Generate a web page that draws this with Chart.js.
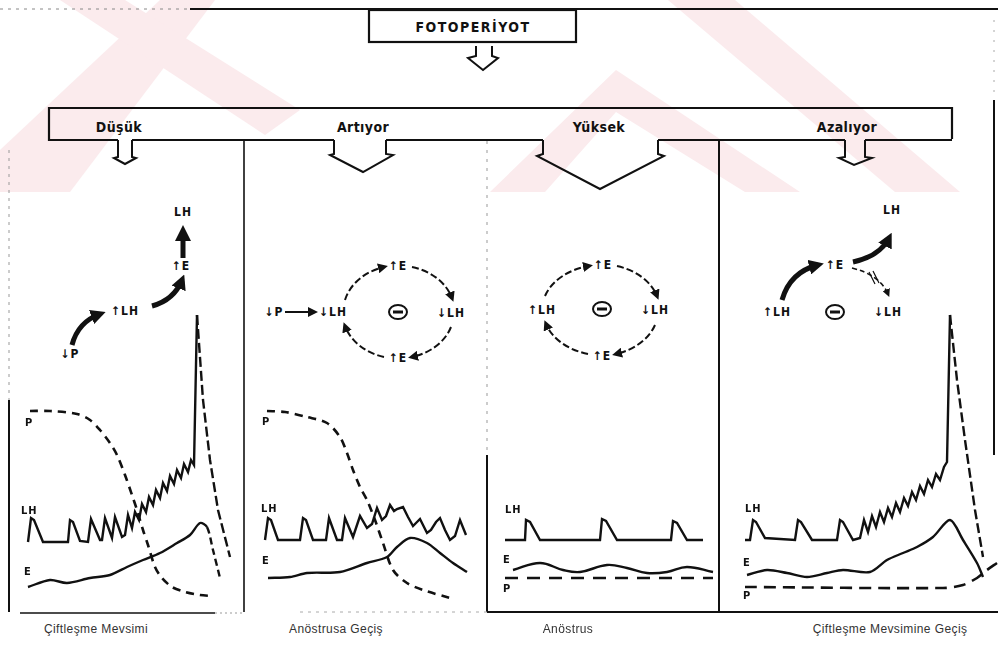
<!DOCTYPE html>
<html>
<head>
<meta charset="utf-8">
<script src="https://cdn.jsdelivr.net/npm/chart.js@4.4.0/dist/chart.umd.min.js"></script>
<style>
  html, body { margin: 0; padding: 0; background: #fff; }
  #wrap { position: relative; width: 998px; height: 649px; overflow: hidden;
    font-family: "Liberation Sans Narrow", "DejaVu Sans Condensed", "Liberation Sans", sans-serif; color: #111; }
  #wrap svg { position: absolute; left: 0; top: 0; }
  #wrap canvas { position: absolute; }
  .t { position: absolute; white-space: nowrap; transform: translate(-50%, -50%); font-weight: bold; font-size: 14px; letter-spacing: 0.4px; }
  .lab { position: absolute; white-space: nowrap; font-weight: bold; font-size: 11px; line-height: 11px; letter-spacing: 1px; }
  .bot { position: absolute; white-space: nowrap; transform: translate(-50%, -50%); font-size: 12px; color: #333; letter-spacing: 0.4px;
    font-family: "Liberation Sans", "DejaVu Sans", sans-serif; }
  svg text { font-family: "Liberation Sans Narrow", "DejaVu Sans Condensed", sans-serif; font-weight: bold; font-size: 12px; letter-spacing: 1px; fill: #111; }
</style>
</head>
<body>
<div id="wrap">
  <svg width="998" height="649">
    <defs>
      <marker id="ah" viewBox="0 0 10 10" refX="6" refY="5" markerWidth="5" markerHeight="5" orient="auto">
        <path d="M0,0 L10,5 L0,10 z" fill="#111"/>
      </marker>
      <marker id="ahs" viewBox="0 0 10 10" refX="6" refY="5" markerWidth="3" markerHeight="3" orient="auto">
        <path d="M0,0 L10,5 L0,10 z" fill="#111"/>
      </marker>
    </defs>
    <!-- faint watermark bands -->
    <g fill="#f7d3d8" opacity="0.45">
      <polygon points="0,150 0,192 70,192 215,0 160,0"/>
      <polygon points="60,0 125,0 300,110 265,135"/>
      <polygon points="616,70 800,192 745,192 616,112 545,192 490,192"/>
      <polygon points="668,0 735,0 960,192 895,192"/>
    </g>
    <!-- frame -->
    <line x1="0" y1="9" x2="190" y2="9" stroke="#888" stroke-width="1" stroke-dasharray="3 5"/>
    <line x1="190" y1="9" x2="998" y2="9" stroke="#111" stroke-width="2"/>
    <rect x="369" y="10" width="207" height="32" fill="#fff" fill-opacity="0.3" stroke="#111" stroke-width="2.2"/>
    <path d="M476,46 V56 L468,58 L483,70 L498,58 L492,56 V46" fill="none" stroke="#111" stroke-width="2"/>

    <path d="M49,141 V108 H952 V139" fill="none" stroke="#111" stroke-width="2.2"/>
    <path d="M49,140 H118 M132,140 H334 M386,140 H543 M658,140 H845 M865,140 H952" fill="none" stroke="#111" stroke-width="2.2"/>
    <path d="M118,140 V157 L114,158 L125,164 L136,158 L132,157 V140" fill="none" stroke="#111" stroke-width="2"/>
    <path d="M334,140 V154 L330,155 L363,172 L393,155 L386,154 V140" fill="none" stroke="#111" stroke-width="2"/>
    <path d="M543,140 V154 L537,156 L600,189 L664,156 L658,154 V140" fill="none" stroke="#111" stroke-width="2"/>
    <path d="M845,140 V157 L839,158 L854,165 L872,158 L865,157 V140" fill="none" stroke="#111" stroke-width="2"/>

    <line x1="244" y1="141" x2="244" y2="612" stroke="#111" stroke-width="1.6"/>
    <line x1="487" y1="141" x2="487" y2="455" stroke="#999" stroke-width="1" stroke-dasharray="3 6"/>
    <line x1="487" y1="455" x2="487" y2="612" stroke="#111" stroke-width="2"/>
    <line x1="719" y1="141" x2="719" y2="612" stroke="#111" stroke-width="2"/>
    <line x1="9" y1="150" x2="9" y2="400" stroke="#999" stroke-width="1" stroke-dasharray="3 5"/>
    <line x1="9" y1="400" x2="9" y2="612" stroke="#111" stroke-width="2"/>
    <line x1="994" y1="20" x2="994" y2="100" stroke="#aaa" stroke-width="1" stroke-dasharray="2 8"/>
    <line x1="994" y1="100" x2="994" y2="455" stroke="#111" stroke-width="2"/>
    <line x1="20" y1="613" x2="215" y2="613" stroke="#111" stroke-width="1.6"/>
    <line x1="215" y1="613" x2="244" y2="613" stroke="#999" stroke-width="1" stroke-dasharray="2 3"/>
    <line x1="300" y1="612" x2="487" y2="612" stroke="#aaa" stroke-width="1" stroke-dasharray="3 5"/>
    <line x1="487" y1="612" x2="998" y2="612" stroke="#111" stroke-width="2"/>

    <!-- panel 1 feedback -->
    <text x="183" y="212" text-anchor="middle" dominant-baseline="central">LH</text>
    <line x1="183" y1="258" x2="183" y2="240" stroke="#111" stroke-width="5"/>
    <path d="M175,241 L191,241 L183,225 z" fill="#111"/>
    <text x="181" y="266" text-anchor="middle" dominant-baseline="central">↑E</text>
    <path d="M152,306 Q174,300 182,280" fill="none" stroke="#111" stroke-width="5" marker-end="url(#ahs)"/>
    <text x="125" y="311" text-anchor="middle" dominant-baseline="central">↑LH</text>
    <path d="M72,345 Q78,322 100,314" fill="none" stroke="#111" stroke-width="5" marker-end="url(#ahs)"/>
    <text x="70" y="354" text-anchor="middle" dominant-baseline="central">↓P</text>

    <!-- panel 2 feedback -->
    <text x="274" y="312" text-anchor="middle" dominant-baseline="central">↓P</text>
    <line x1="285" y1="312" x2="314" y2="312" stroke="#111" stroke-width="2" marker-end="url(#ah)"/>
    <text x="333" y="312" text-anchor="middle" dominant-baseline="central">↓LH</text>
    <text x="398" y="266" text-anchor="middle" dominant-baseline="central">↑E</text>
    <text x="451" y="313" text-anchor="middle" dominant-baseline="central">↓LH</text>
    <text x="398" y="358" text-anchor="middle" dominant-baseline="central">↑E</text>
    <path d="M345,300 A56 46 0 0 1 384,267" fill="none" stroke="#111" stroke-width="2" stroke-dasharray="7 3" marker-end="url(#ah)"/>
    <path d="M412,267 A56 46 0 0 1 452,298" fill="none" stroke="#111" stroke-width="2" stroke-dasharray="7 3" marker-end="url(#ah)"/>
    <path d="M451,327 A56 46 0 0 1 412,357" fill="none" stroke="#111" stroke-width="2" stroke-dasharray="7 3" marker-end="url(#ah)"/>
    <path d="M384,357 A56 46 0 0 1 345,326" fill="none" stroke="#111" stroke-width="2" stroke-dasharray="7 3" marker-end="url(#ah)"/>
    <ellipse cx="398" cy="312" rx="9" ry="7" fill="none" stroke="#111" stroke-width="2"/>
    <line x1="393" y1="312" x2="403" y2="312" stroke="#111" stroke-width="3"/>

    <!-- panel 3 feedback -->
    <text x="603" y="265" text-anchor="middle" dominant-baseline="central">↑E</text>
    <text x="542" y="310" text-anchor="middle" dominant-baseline="central">↑LH</text>
    <text x="655" y="310" text-anchor="middle" dominant-baseline="central">↓LH</text>
    <text x="602" y="356" text-anchor="middle" dominant-baseline="central">↑E</text>
    <path d="M545,296 A60 45 0 0 1 589,266" fill="none" stroke="#111" stroke-width="2" stroke-dasharray="7 3" marker-end="url(#ah)"/>
    <path d="M617,266 A60 45 0 0 1 657,296" fill="none" stroke="#111" stroke-width="2" stroke-dasharray="7 3" marker-end="url(#ah)"/>
    <path d="M655,325 A60 45 0 0 1 616,354" fill="none" stroke="#111" stroke-width="2" stroke-dasharray="7 3" marker-end="url(#ah)"/>
    <path d="M588,354 A60 45 0 0 1 546,324" fill="none" stroke="#111" stroke-width="2" stroke-dasharray="7 3" marker-end="url(#ah)"/>
    <ellipse cx="602" cy="309" rx="9" ry="7" fill="none" stroke="#111" stroke-width="2"/>
    <line x1="597" y1="309" x2="607" y2="309" stroke="#111" stroke-width="3"/>

    <!-- panel 4 feedback -->
    <text x="892" y="210" text-anchor="middle" dominant-baseline="central">LH</text>
    <text x="835" y="265" text-anchor="middle" dominant-baseline="central">↑E</text>
    <text x="777" y="312" text-anchor="middle" dominant-baseline="central">↑LH</text>
    <text x="888" y="312" text-anchor="middle" dominant-baseline="central">↓LH</text>
    <path d="M782,300 Q790,272 818,265" fill="none" stroke="#111" stroke-width="5" marker-end="url(#ahs)"/>
    <path d="M853,262 Q880,256 889,238" fill="none" stroke="#111" stroke-width="5" marker-end="url(#ahs)"/>
    <path d="M852,268 Q880,275 888,294" fill="none" stroke="#111" stroke-width="1.6" stroke-dasharray="5 3" marker-end="url(#ah)"/>
    <path d="M869,272 L875,284 M873,271 L879,283" stroke="#111" stroke-width="1.2"/>
    <ellipse cx="835" cy="312" rx="9" ry="7" fill="none" stroke="#111" stroke-width="2"/>
    <line x1="830" y1="312" x2="840" y2="312" stroke="#111" stroke-width="3"/>
  </svg>

  <div class="t" style="left:473px;top:27px;letter-spacing:1.5px;">FOTOPERİYOT</div>
  <div class="t" style="left:119px;top:127px;">Düşük</div>
  <div class="t" style="left:363px;top:127px;">Artıyor</div>
  <div class="t" style="left:599px;top:127px;">Yüksek</div>
  <div class="t" style="left:847px;top:127px;">Azalıyor</div>

  <canvas id="p1" width="234" height="322" style="left:10px;top:290px;"></canvas>
  <canvas id="p2" width="242" height="322" style="left:245px;top:290px;"></canvas>
  <canvas id="p3" width="231" height="322" style="left:488px;top:290px;"></canvas>
  <canvas id="p4" width="278" height="322" style="left:720px;top:290px;"></canvas>

  <div class="lab" style="left:25px;top:417px;">P</div>
  <div class="lab" style="left:21px;top:505px;">LH</div>
  <div class="lab" style="left:24px;top:566px;">E</div>
  <div class="lab" style="left:262px;top:416px;">P</div>
  <div class="lab" style="left:261px;top:503px;">LH</div>
  <div class="lab" style="left:262px;top:555px;">E</div>
  <div class="lab" style="left:505px;top:504px;">LH</div>
  <div class="lab" style="left:503px;top:554px;">E</div>
  <div class="lab" style="left:503px;top:583px;">P</div>
  <div class="lab" style="left:745px;top:503px;">LH</div>
  <div class="lab" style="left:743px;top:557px;">E</div>
  <div class="lab" style="left:743px;top:590px;">P</div>

  <div class="bot" style="left:96px;top:629px;">Çiftleşme Mevsimi</div>
  <div class="bot" style="left:336px;top:629px;">Anöstrusa Geçiş</div>
  <div class="bot" style="left:568px;top:629px;">Anöstrus</div>
  <div class="bot" style="left:890px;top:629px;">Çiftleşme Mevsimine Geçiş</div>
</div>

<script>
// hormone curves, x = time position along the panel, y = level above the baseline
// Çiftleşme Mevsimi
const lh1Time = [28, 31, 34, 43, 68, 70, 73, 80, 88, 91, 100, 102, 105, 112, 115, 122, 125, 128, 132, 135, 139, 142, 146, 149, 153, 156, 160, 163, 167, 170, 174, 177, 181, 184, 188, 191, 194, 197, 203, 210, 218, 230];
const lh1Level = [70, 94, 92, 70, 70, 92, 90, 71, 70, 93, 72, 72, 94, 74, 95, 75, 77, 97, 84, 100, 92, 108, 100, 115, 107, 122, 114, 129, 121, 136, 128, 142, 134, 148, 140, 152, 147, 297, 212, 152, 102, 55];
const e1Time = [28, 50, 67, 90, 110, 127, 143, 160, 177, 190, 200, 207, 213, 220];
const e1Level = [25, 32, 29, 34, 37, 45, 52, 59, 69, 77, 89, 85, 62, 34];
const p1Time = [30, 50, 77, 90, 100, 110, 117, 125, 132, 137, 143, 148, 155, 162, 172, 185, 200, 212];
const p1Level = [201, 201, 198, 192, 182, 169, 157, 137, 117, 102, 82, 67, 45, 34, 25, 20, 17, 16];

// Anöstrusa Geçiş
const lh2Time = [265, 268, 271, 278, 300, 303, 306, 313, 326, 329, 337, 342, 345, 353, 360, 367, 372, 377, 382, 386, 390, 394, 397, 403, 408, 413, 417, 420, 427, 431, 436, 440, 445, 450, 455, 460, 466];
const lh2Level = [72, 94, 92, 72, 72, 94, 92, 72, 72, 94, 72, 72, 94, 75, 96, 84, 88, 104, 92, 96, 107, 101, 103, 105, 95, 86, 90, 93, 79, 82, 90, 94, 82, 72, 76, 92, 77];
const e2Time = [268, 290, 307, 340, 367, 387, 397, 410, 427, 440, 453, 467];
const e2Level = [34, 35, 39, 40, 49, 55, 65, 74, 69, 59, 49, 40];
const p2Time = [267, 285, 307, 327, 340, 347, 353, 360, 367, 375, 383, 393, 407, 423, 450];
const p2Level = [201, 200, 195, 189, 175, 159, 142, 125, 112, 92, 69, 42, 29, 22, 14];

// Anöstrus
const lh3Time = [505, 525, 526, 530, 540, 600, 602, 606, 617, 671, 673, 677, 687, 703];
const lh3Level = [72, 72, 92, 90, 72, 72, 93, 91, 72, 72, 91, 89, 72, 72];
const e3Time = [513, 540, 563, 580, 607, 627, 647, 667, 687, 713];
const e3Level = [42, 49, 42, 40, 47, 44, 39, 40, 45, 40];
const p3Time = [505, 713];
const p3Level = [34, 34];

// Çiftleşme Mevsimine Geçiş
const lh4Time = [745, 750, 753, 756, 765, 795, 798, 801, 812, 837, 840, 843, 853, 860, 864, 868, 872, 876, 880, 884, 888, 892, 896, 900, 904, 908, 912, 916, 920, 924, 928, 932, 936, 940, 944, 947, 950, 957, 965, 975, 983];
const lh4Level = [72, 72, 92, 90, 74, 72, 92, 90, 72, 72, 92, 90, 72, 74, 92, 80, 96, 85, 100, 90, 104, 95, 109, 100, 114, 106, 120, 112, 126, 118, 132, 125, 138, 132, 145, 150, 297, 232, 172, 102, 55];
const e4Time = [747, 767, 787, 807, 827, 843, 870, 887, 903, 917, 933, 950, 963, 977, 983];
const e4Level = [37, 42, 39, 35, 39, 42, 40, 52, 59, 65, 75, 92, 72, 49, 35];
const p4Time = [745, 943, 963, 977, 987, 997];
const p4Level = [25, 24, 27, 34, 42, 49];

const INK = "#111";
const toPoints = (xs, ys) => xs.map((x, i) => ({ x: x, y: ys[i] }));

// dashed from the given point index onward (falling part of a peak)
const dashAfter = (k, dash) => ({
  borderDash: (ctx) => (ctx.p0DataIndex >= k ? dash : undefined),
});

const solid = (xs, ys, extra) =>
  Object.assign({ data: toPoints(xs, ys), borderColor: INK, borderWidth: 2.4, pointRadius: 0, tension: 0, fill: false }, extra || {});
const dashed = (xs, ys, extra) =>
  Object.assign({ data: toPoints(xs, ys), borderColor: INK, borderWidth: 2.6, pointRadius: 0, tension: 0.3, fill: false, borderDash: [8, 6] }, extra || {});

const makePanel = (id, xMin, xMax, datasets) => {
  const ctx = document.getElementById(id).getContext("2d");
  return new Chart(ctx, {
    type: "line",
    data: { datasets: datasets },
    options: {
      responsive: false,
      animation: false,
      devicePixelRatio: 1,
      layout: { padding: 0 },
      scales: {
        x: { type: "linear", min: xMin, max: xMax, display: false },
        y: { type: "linear", min: 0, max: 322, display: false },
      },
      plugins: { legend: { display: false }, tooltip: { enabled: false } },
    },
  });
};

makePanel("p1", 10, 244, [
  solid(lh1Time, lh1Level, { segment: dashAfter(37, [10, 4]) }),
  solid(e1Time, e1Level, { tension: 0.3, segment: dashAfter(11, [7, 4]) }),
  dashed(p1Time, p1Level),
]);
makePanel("p2", 245, 487, [
  solid(lh2Time, lh2Level),
  solid(e2Time, e2Level, { tension: 0.3 }),
  dashed(p2Time, p2Level),
]);
makePanel("p3", 488, 719, [
  solid(lh3Time, lh3Level),
  solid(e3Time, e3Level, { tension: 0.4 }),
  dashed(p3Time, p3Level, { borderDash: [13, 9], tension: 0 }),
]);
makePanel("p4", 720, 998, [
  solid(lh4Time, lh4Level, { segment: dashAfter(36, [10, 4]) }),
  solid(e4Time, e4Level, { tension: 0.3 }),
  dashed(p4Time, p4Level, { borderDash: [12, 7] }),
]);
</script>
</body>
</html>
